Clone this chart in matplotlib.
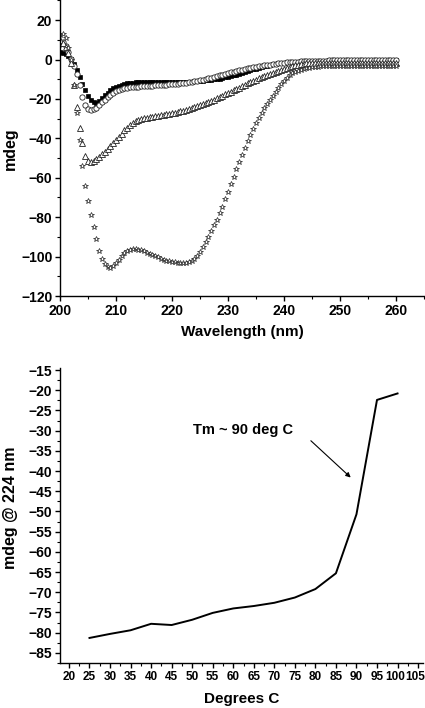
import numpy as np
import matplotlib
matplotlib.use("Agg")
import matplotlib.pyplot as plt
from matplotlib.ticker import MultipleLocator
from matplotlib.transforms import ScaledTranslation

plt.rcParams['font.family'] = ['Liberation Sans', 'DejaVu Sans']
plt.rcParams['font.weight'] = 'bold'

# ---------------- Top panel data: CD spectra (0.5 nm steps, 200-260 nm)
wavelength_start = 200.0
wavelength_step = 0.5

squares = [
    4, 3.5, 2.8, 1.8, 0.3, -2.3, -5.5, -9, -12.2, -15.5,
    -18.5, -20.5, -21.8, -22, -21, -19.5, -18, -16.8, -15.7, -14.7,
    -13.9, -13.2, -12.7, -12.3, -12, -11.8, -11.7, -11.6, -11.6, -11.5,
    -11.5, -11.5, -11.5, -11.5, -11.5, -11.5, -11.5, -11.5, -11.5, -11.5,
    -11.5, -11.5, -11.5, -11.45, -11.4, -11.35, -11.3, -11.2, -11.1, -11.0,
    -10.9, -10.75, -10.6, -10.45, -10.3, -10.1, -9.9, -9.65, -9.4, -9.1,
    -8.8, -8.45, -8.1, -7.75, -7.3, -6.9, -6.4, -6.0, -5.5, -5.0,
    -4.6, -4.2, -3.8, -3.45, -3.1, -2.8, -2.5, -2.25, -2.0, -1.85,
    -1.7, -1.5, -1.4, -1.3, -1.2, -1.1, -1.0, -0.9, -0.8, -0.75,
    -0.7, -0.65, -0.6, -0.55, -0.5, -0.5, -0.45, -0.45, -0.4, -0.4,
    -0.4, -0.4, -0.4, -0.4, -0.4, -0.4, -0.4, -0.4, -0.4, -0.4,
    -0.35, -0.35, -0.35, -0.35, -0.35, -0.35, -0.35, -0.3, -0.3, -0.3,
    -0.3,
]

circles = [
    8, 9, 7, 4, 0.5, -3.5, -7.5, -13, -19, -23,
    -25, -25.8, -25.3, -24.5, -23.3, -21.8, -20.5, -19.2, -18, -17,
    -16.2, -15.5, -15, -14.6, -14.3, -14.1, -13.9, -13.8, -13.7, -13.6,
    -13.5, -13.4, -13.3, -13.2, -13.1, -13.0, -12.9, -12.8, -12.7, -12.6,
    -12.5, -12.35, -12.2, -12.05, -11.9, -11.7, -11.5, -11.3, -11.1, -10.8,
    -10.5, -10.2, -9.9, -9.6, -9.3, -8.9, -8.5, -8.1, -7.7, -7.3,
    -6.9, -6.5, -6.1, -5.8, -5.4, -5.1, -4.8, -4.5, -4.2, -3.9,
    -3.6, -3.4, -3.2, -3.0, -2.8, -2.6, -2.4, -2.2, -2.0, -1.8,
    -1.7, -1.5, -1.4, -1.3, -1.2, -1.1, -1.0, -0.9, -0.8, -0.75,
    -0.7, -0.65, -0.6, -0.55, -0.5, -0.5, -0.45, -0.45, -0.4, -0.4,
    -0.4, -0.4, -0.4, -0.4, -0.4, -0.4, -0.4, -0.4, -0.4, -0.4,
    -0.35, -0.35, -0.35, -0.35, -0.35, -0.35, -0.35, -0.3, -0.3, -0.3,
    -0.3,
]

triangles = [
    10, 8.5, 6.5, 3.5, -2, -13, -24, -35, -42.5, -49,
    -51.5, -52, -51.5, -50.5, -49.3, -48, -46.7, -45.2, -43.8, -42.3,
    -40.8, -39.2, -37.6, -36, -34.5, -33.2, -32, -31.2, -30.6, -30.1,
    -29.8, -29.5, -29.2, -29.0, -28.8, -28.6, -28.4, -28.1, -27.8, -27.5,
    -27.2, -26.9, -26.6, -26.2, -25.9, -25.5, -25.1, -24.7, -24.3, -23.8,
    -23.3, -22.7, -22.1, -21.5, -20.9, -20.3, -19.6, -19.0, -18.3, -17.6,
    -17.0, -16.3, -15.6, -14.9, -14.2, -13.5, -12.8, -12.1, -11.5, -10.8,
    -10.2, -9.6, -9.0, -8.4, -7.8, -7.2, -6.7, -6.1, -5.6, -5.1,
    -4.6, -4.1, -3.7, -3.3, -2.9, -2.6, -2.3, -2.1, -1.9, -1.8,
    -1.7, -1.7, -1.65, -1.65, -1.6, -1.6, -1.6, -1.6, -1.6, -1.6,
    -1.6, -1.6, -1.6, -1.6, -1.6, -1.6, -1.6, -1.6, -1.6, -1.6,
    -1.6, -1.6, -1.6, -1.6, -1.6, -1.6, -1.6, -1.6, -1.6, -1.6,
    -1.6,
]

stars = [
    12.5, 13, 11, 6, 0, -13, -27, -41, -54, -64,
    -72, -79, -85, -91, -97, -101, -104, -105.5, -106, -105,
    -103.5, -101.5, -99.5, -98, -97.2, -96.7, -96.4, -96.3, -96.5, -96.9,
    -97.4, -98, -98.6, -99.2, -99.8, -100.4, -101, -101.5, -102, -102.4,
    -102.7, -103, -103.2, -103.3, -103.3, -103.2, -102.8, -102.2, -101.2, -99.8,
    -97.8, -95.3, -92.8, -90, -87.2, -84.2, -81.2, -78, -74.8, -71,
    -67.3, -63.3, -59.4, -55.5, -52, -48.2, -44.7, -41.2, -38.2, -35.2,
    -32.3, -29.5, -27.1, -24.8, -22.7, -20.6, -18.5, -16.4, -14.5, -12.6,
    -10.8, -9.2, -8.0, -7.0, -6.2, -5.6, -5.1, -4.7, -4.4, -4.1,
    -3.9, -3.7, -3.6, -3.5, -3.4, -3.4, -3.3, -3.3, -3.3, -3.2,
    -3.2, -3.2, -3.2, -3.2, -3.2, -3.2, -3.2, -3.2, -3.2, -3.2,
    -3.2, -3.1, -3.1, -3.1, -3.1, -3.1, -3.1, -3.1, -3.1, -3.1,
    -3.1,
]

# ---------------- Bottom panel data: melt curve
degrees = [25, 30, 35, 40, 45, 50, 55, 60, 65, 70, 75, 80, 85, 90, 95, 100]
mdeg_224 = [-81.3, -80.3, -79.4, -77.8, -78.1, -76.8, -75.1, -74.0, -73.4,
            -72.6, -71.3, -69.2, -65.3, -50.7, -22.4, -20.8]

top_xticks = [200, 210, 220, 230, 240, 250, 260]
top_yticks = [20, 0, -20, -40, -60, -80, -100, -120]
bot_xticks = list(range(20, 110, 5))
bot_yticks = list(range(-15, -90, -5))

W, H = 425, 708
fig = plt.figure(figsize=(W / 100, H / 100), dpi=100)

def px_axes(left, top, right, bottom):
    return fig.add_axes([left / W, 1 - bottom / H, (right - left) / W, (bottom - top) / H])

def style(ax, xsize=10, ysize=10):
    for s in ['top', 'right']:
        ax.spines[s].set_visible(False)
    for s in ['left', 'bottom']:
        ax.spines[s].set_linewidth(1.0)
    ax.tick_params(which='major', direction='out', length=3.5, width=1.0, pad=2)
    ax.tick_params(axis='x', which='major', labelsize=xsize)
    ax.tick_params(axis='y', which='major', labelsize=ysize)
    ax.tick_params(which='minor', direction='out', length=2, width=0.8)
    for lab in ax.get_xticklabels() + ax.get_yticklabels():
        lab.set_fontweight('bold')

# ---------------- Top panel
ax1 = px_axes(60, 0.4, 424, 296)
n = len(stars)
wl = wavelength_start + wavelength_step * np.arange(n)

ax1.plot(wl, squares, linestyle='none', marker='s', markersize=3.2,
         markerfacecolor='black', markeredgecolor='black', markeredgewidth=0.5)
ax1.plot(wl, circles, linestyle='none', marker='o', markersize=3.8,
         markerfacecolor='white', markeredgecolor='#222222', markeredgewidth=0.6)
ax1.plot(wl, triangles, linestyle='none', marker='^', markersize=4.0,
         markerfacecolor='white', markeredgecolor='#222222', markeredgewidth=0.6)
ax1.plot(wl, stars, linestyle='none', marker='*', markersize=4.4,
         markerfacecolor='white', markeredgecolor='#222222', markeredgewidth=0.5)

ax1.set_xlim(200, 265)
ax1.set_ylim(-120, 30)
ax1.set_xticks(top_xticks)
ax1.set_yticks(top_yticks)
ax1.xaxis.set_minor_locator(MultipleLocator(5))
ax1.yaxis.set_minor_locator(MultipleLocator(10))
style(ax1)
ax1.set_xlabel('Wavelength (nm)', fontsize=11, fontweight='bold')
ax1.set_ylabel('mdeg', fontsize=11.5, fontweight='bold')
ax1.xaxis.set_label_coords(0.5, -0.098)
ax1.yaxis.set_label_coords(-0.115, 0.5)

# ---------------- Bottom panel
ax2 = px_axes(59.5, 368, 423, 663)
ax2.plot(degrees, mdeg_224, color='black', linewidth=1.4)
ax2.set_xlim(17.7, 106.2)
ax2.set_ylim(-87.5, -14.5)
ax2.set_xticks(bot_xticks)
ax2.set_yticks(bot_yticks)
ax2.xaxis.set_minor_locator(MultipleLocator(2.5))
ax2.yaxis.set_minor_locator(MultipleLocator(2.5))
style(ax2, xsize=8.5, ysize=10)
ax2.set_xlabel('Degrees C', fontsize=11, fontweight='bold')
ax2.set_ylabel('mdeg @ 224 nm', fontsize=11.5, fontweight='bold')
ax2.xaxis.set_label_coords(0.5, -0.10)
ax2.yaxis.set_label_coords(-0.115, 0.525)

# nudge the crowded last tick labels ("100", "105") left so they fit
major_ticks = ax2.xaxis.get_major_ticks()
for tick, dx in ((major_ticks[-2], -2.6), (major_ticks[-1], -3.2)):
    tick.label1.set_transform(tick.label1.get_transform()
                              + ScaledTranslation(dx / 100, 0, fig.dpi_scale_trans))

ax2.text(62.5, -29.8, 'Tm ~ 90 deg C', fontsize=10.5, fontweight='bold',
         ha='center', va='center')
ax2.annotate('', xy=(88.6, -41.6), xytext=(78.9, -32.5),
             arrowprops=dict(arrowstyle='-|>', color='black', lw=0.8,
                             mutation_scale=7, shrinkA=0, shrinkB=0))

fig.savefig('out.png', dpi=100)
